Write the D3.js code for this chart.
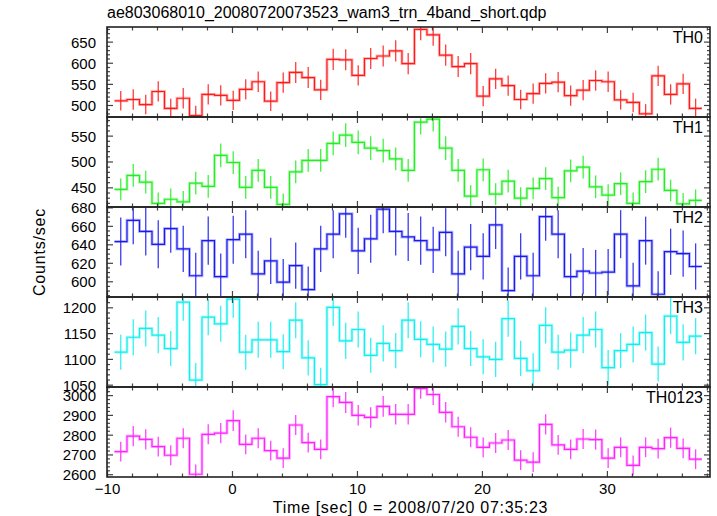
<!DOCTYPE html>
<html><head><meta charset="utf-8">
<script src="https://cdn.jsdelivr.net/npm/d3@7"></script>
<style>body{margin:0;background:#fff}svg{display:block}text{font-family:"Liberation Sans",Arial,Helvetica,sans-serif;fill:#000}</style>
</head><body><svg id="c" width="717" height="516"></svg>
<script>
const title = "ae803068010_20080720073523_wam3_trn_4band_short.qdp";
const xLabel = "Time [sec] 0 = 2008/07/20 07:35:23";
const yLabel = "Counts/sec";
const times = [-8.9,-7.9,-6.9,-5.9,-4.9,-3.9,-2.9,-1.9,-0.9,0.1,1.1,2.1,3.1,4.1,5.1,6.1,7.1,8.1,9.1,10.1,11.1,12.1,13.1,14.1,15.1,16.1,17.1,18.1,19.1,20.1,21.1,22.1,23.1,24.1,25.1,26.1,27.1,28.1,29.1,30.1,31.1,32.1,33.1,34.1,35.1,36.1,37.1];
const xTicks = [-10,0,10,20,30];
const xTickLabels = ["\u221210","0","10","20","30"];

const panelNames = ["TH0","TH1","TH2","TH3","TH0123"];
const panelColors = ["#ff1a1a","#22ee22","#1a1aee","#11eeee","#ff22ff"];

const th0 = [510,513,501,532,492,516,475,525,523,511,537,555,509,553,577,565,536,608,607,570,610,616,628,598,679,666,618,591,598,521,562,546,513,527,551,554,522,535,558,555,512,506,479,569,525,550,492];
const th0Err = [23,24,23,24,23,24,23,24,24,23,24,24,23,24,25,25,24,25,25,24,25,25,25,25,26,26,25,25,25,24,24,24,23,24,24,24,24,24,24,24,23,23,23,24,24,24,23];
const th1 = [446,473,460,419,427,422,458,452,512,498,450,483,450,417,480,502,502,535,551,537,526,521,505,483,576,582,526,483,433,484,437,462,429,448,467,430,482,489,451,435,457,419,461,485,444,418,425];
const th1Err = [21,22,22,21,21,21,22,22,23,22,22,22,22,21,22,22,22,23,23,23,23,23,22,22,24,24,23,22,21,22,21,22,21,21,22,21,22,22,22,21,22,21,22,22,21,21,21];
const th2 = [643,666,654,640,657,635,606,644,605,645,651,608,622,599,617,591,635,651,673,633,646,678,654,648,644,634,653,608,637,627,661,590,627,606,670,651,605,611,609,610,651,595,644,586,632,630,616];
const th2Err = [26,26,26,26,26,25,25,26,25,26,26,25,25,25,25,25,25,26,26,25,26,26,26,26,26,25,26,25,25,25,26,25,25,25,26,26,25,25,25,25,26,25,26,25,25,25,25];
const th3 = [1113,1142,1159,1146,1120,1210,1059,1181,1168,1216,1113,1137,1137,1114,1175,1102,1050,1200,1135,1157,1107,1130,1116,1175,1138,1128,1119,1163,1120,1104,1099,1178,1101,1077,1165,1113,1117,1146,1157,1083,1116,1128,1151,1090,1183,1132,1144];
const th3Err = [34,35,35,35,34,36,33,35,35,36,34,35,35,34,35,34,33,36,35,35,34,35,34,35,35,35,34,35,34,34,34,35,34,34,35,34,34,35,35,34,34,35,35,34,35,35,35];
const th0123 = [2714,2793,2776,2740,2696,2782,2600,2802,2808,2871,2751,2782,2719,2681,2849,2760,2726,2992,2963,2898,2887,2943,2903,2903,3034,3003,2913,2840,2787,2736,2758,2773,2671,2661,2852,2748,2726,2778,2775,2681,2736,2645,2736,2729,2785,2731,2676];
const th0123Err = [50,51,51,50,50,51,49,51,51,52,50,51,50,50,51,50,50,53,53,52,52,52,52,52,53,53,52,51,51,50,51,51,50,50,51,50,50,51,51,50,50,50,50,50,51,50,50];

const panelValues = [th0, th1, th2, th3, th0123];
const panelErrors = [th0Err, th1Err, th2Err, th3Err, th0123Err];
const panelDomains = [[471.6,684.6],[412,586],[583,680.4],[1045.5,1220],[2586,3041]];
const panelMajor = [[500,550,600,650],[450,500,550],[600,620,640,660,680],[1050,1100,1150,1200],[2600,2700,2800,2900,3000]];
const panelMinorStep = [10,10,5,10,20];

const svg = d3.select("#c");
const L = 107, R = 710, T0 = 27, PH = 90;
const x = d3.scaleLinear().domain([-10,38.25]).range([L,R]);
const frameCol = "#222";

function range(lo,hi,step){const a=[];for(let v=Math.ceil(lo/step)*step;v<=hi+1e-9;v+=step)a.push(v);return a;}

const defs = svg.append("defs");
panelNames.forEach((name,p)=>{
  const top = T0 + p*PH, bot = top + PH;
  const y = d3.scaleLinear().domain(panelDomains[p]).range([bot,top]);
  const g = svg.append("g");
  defs.append("clipPath").attr("id","clip"+p).append("rect").attr("x",L).attr("y",top).attr("width",R-L).attr("height",PH);
  const col = panelColors[p];
  const vals = panelValues[p], errs = panelErrors[p];
  const pts = times.map((t,i)=>[t-0.5, vals[i]]);
  pts.push([times[times.length-1]+0.5, vals[vals.length-1]]);
  const line = d3.line().x(d=>x(d[0])).y(d=>y(d[1])).curve(d3.curveStepAfter);
  const data = g.append("g").attr("clip-path","url(#clip"+p+")");
  data.append("path").attr("d",line(pts)).attr("fill","none").attr("stroke",col).attr("stroke-width",3).attr("stroke-opacity",0.3);
  data.append("path").attr("d",line(pts)).attr("fill","none").attr("stroke",col).attr("stroke-width",1.2);
  data.selectAll("line.err").data(times).enter().append("line")
    .attr("x1",t=>x(t)).attr("x2",t=>x(t))
    .attr("y1",(t,i)=>y(vals[i]-errs[i])).attr("y2",(t,i)=>y(vals[i]+errs[i]))
    .attr("stroke",col).attr("stroke-width",1.3).attr("stroke-opacity",0.85);

  const major = panelMajor[p];
  const minor = range(panelDomains[p][0],panelDomains[p][1],panelMinorStep[p]).filter(v=>!major.some(m=>Math.abs(m-v)<1e-6));
  const la = g.append("g").attr("transform",`translate(${L},0)`).call(d3.axisLeft(y).tickValues(major).tickSize(-6).tickPadding(11).tickFormat(d3.format("d")));
  la.select(".domain").remove();
  la.selectAll("text").style("font-size","15px").attr("dy","0.36em");
  g.append("g").attr("transform",`translate(${L},0)`).call(d3.axisLeft(y).tickValues(minor).tickSize(-3).tickFormat("")).select(".domain").remove();
  g.append("g").attr("transform",`translate(${R},0)`).call(d3.axisRight(y).tickValues(major).tickSize(-6).tickFormat("")).select(".domain").remove();
  g.append("g").attr("transform",`translate(${R},0)`).call(d3.axisRight(y).tickValues(minor).tickSize(-3).tickFormat("")).select(".domain").remove();
  const xMinor = range(-10,38.25,2).filter(v=>v%10!==0);
  const xb = g.append("g").attr("transform",`translate(0,${bot})`).call(d3.axisBottom(x).tickValues(xTicks).tickSize(-6).tickPadding(6).tickFormat((d,i)=>p===4?xTickLabels[i]:""));
  xb.select(".domain").remove();
  xb.selectAll("text").style("font-size","15px");
  g.append("g").attr("transform",`translate(0,${bot})`).call(d3.axisBottom(x).tickValues(xMinor).tickSize(-3.5).tickFormat("")).select(".domain").remove();
  g.append("g").attr("transform",`translate(0,${top})`).call(d3.axisTop(x).tickValues(xTicks).tickSize(-6).tickFormat("")).select(".domain").remove();
  g.append("g").attr("transform",`translate(0,${top})`).call(d3.axisTop(x).tickValues(xMinor).tickSize(-3.5).tickFormat("")).select(".domain").remove();
  g.selectAll(".tick line").attr("stroke","#444").attr("stroke-width",1.2);
  g.append("rect").attr("x",L).attr("y",top).attr("width",R-L).attr("height",PH).attr("fill","none").attr("stroke",frameCol).attr("stroke-width",1.6);
  g.append("text").attr("x",703).attr("y",top+16).attr("text-anchor","end").style("font-size","16px").text(name);
});

svg.append("text").attr("x",L).attr("y",18).style("font-size","16px").text(title);
svg.append("text").attr("x",(L+R)/2+2).attr("y",513).attr("text-anchor","middle").style("font-size","16px").style("letter-spacing","0.7px").text(xLabel);
svg.append("text").attr("transform",`translate(45,${T0+PH*2.5}) rotate(-90)`).attr("text-anchor","middle").style("font-size","16px").style("letter-spacing","0.8px").text(yLabel);
</script></body></html>
